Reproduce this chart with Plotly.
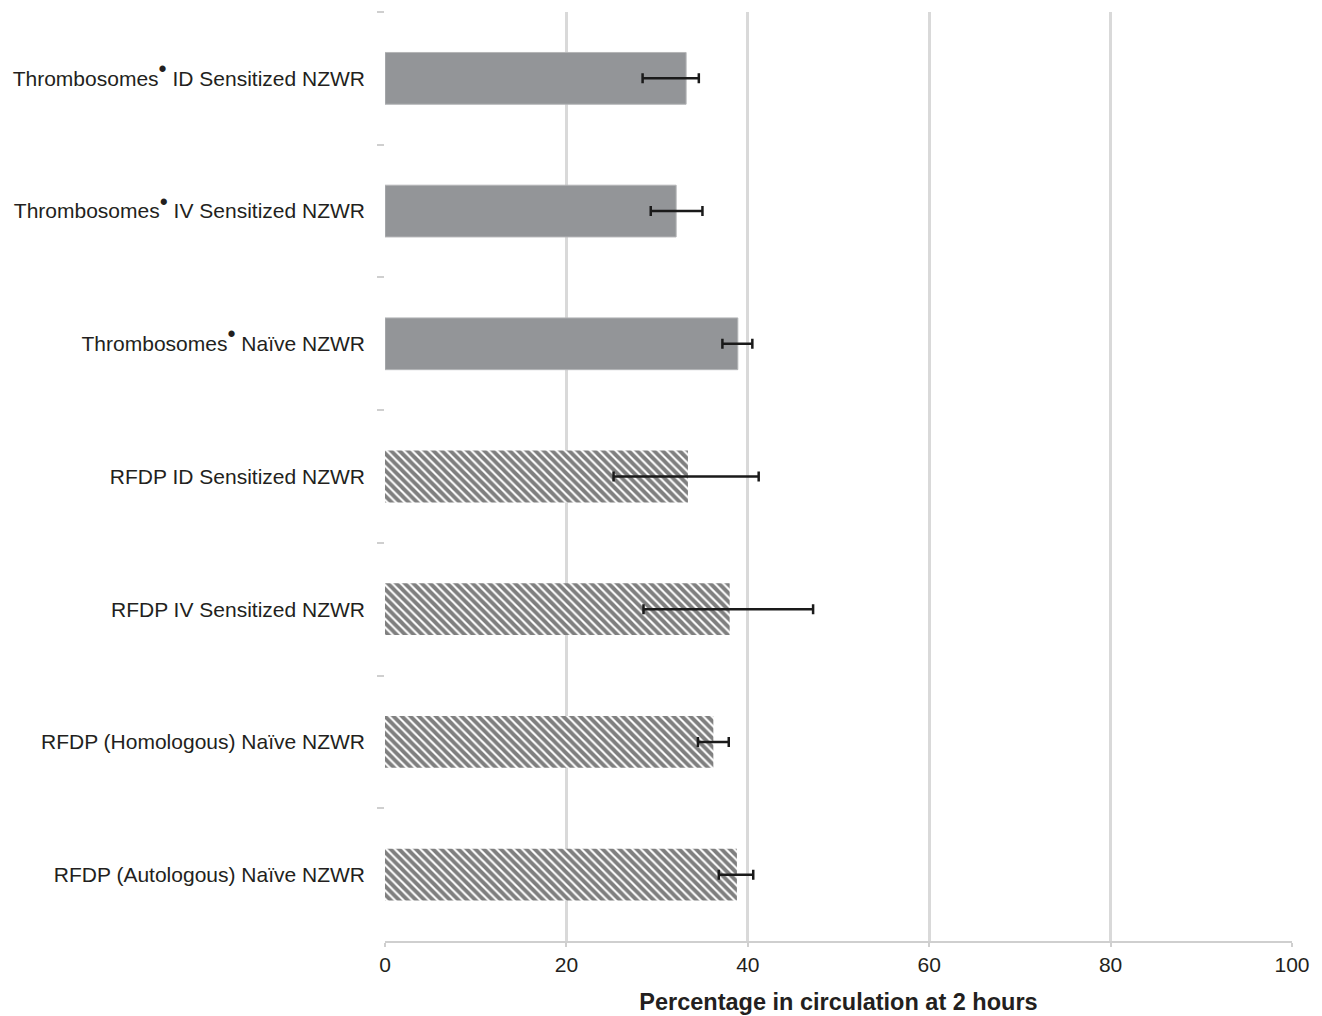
import plotly.graph_objects as go

BUL = '<sup><span style="font-size:23px">•</span></sup>'
categories = [
    "Thrombosomes" + BUL + " ID Sensitized NZWR",
    "Thrombosomes" + BUL + " IV Sensitized NZWR",
    "Thrombosomes" + BUL + " Naïve NZWR",
    "RFDP ID Sensitized NZWR",
    "RFDP IV Sensitized NZWR",
    "RFDP (Homologous) Naïve NZWR",
    "RFDP (Autologous) Naïve NZWR",
]
values = [33.2, 32.1, 38.9, 33.4, 38.0, 36.2, 38.8]
err_low = [28.4, 29.3, 37.2, 25.2, 28.5, 34.5, 36.8]
err_high = [34.6, 35.0, 40.5, 41.2, 47.2, 37.9, 40.6]
hatched = [False, False, False, True, True, True, True]
x_ticks = [0, 20, 40, 60, 80, 100]

FONT = "Liberation Sans, Arial, Helvetica, sans-serif"

fig = go.Figure()


def add_group(mask, solid):
    cats = [c for c, m in zip(categories, mask) if m]
    vals = [v for v, m in zip(values, mask) if m]
    lo = [v - l for v, l, m in zip(values, err_low, mask) if m]
    hi = [h - v for v, h, m in zip(values, err_high, mask) if m]
    marker = dict(color="#939598", line=dict(color="#b4b5b7", width=1)) if solid else dict(
        color="white",
        line=dict(color="rgba(0,0,0,0)", width=0),
        pattern=dict(shape="\\", fgcolor="#000000", bgcolor="white", size=6, solidity=0.65),
    )
    fig.add_trace(go.Bar(
        y=cats, x=vals, orientation="h", width=0.39,
        marker=marker,
        error_x=dict(type="data", symmetric=False, array=hi, arrayminus=lo,
                     color="#1a1a1a", thickness=2.5, width=5),
        showlegend=False,
    ))


add_group([not h for h in hatched], True)
add_group(hatched, False)

fig.update_layout(
    width=1322, height=1016,
    paper_bgcolor="white", plot_bgcolor="white",
    margin=dict(l=377, r=38, t=4, b=83),
    font=dict(family=FONT, size=21, color="#231f20"),
    barmode="overlay",
)
fig.update_xaxes(
    range=[0, 100], tickvals=x_ticks, ticktext=[str(t) for t in x_ticks],
    showgrid=True, gridcolor="#d9d9d9", gridwidth=3,
    showline=True, linecolor="#cfcfcf", linewidth=2,
    ticks="outside", ticklen=4, tickcolor="#cfcfcf", tickwidth=2,
    zeroline=False,
    tickfont=dict(size=21),
    title=dict(text="<b>Percentage in circulation at 2 hours</b>", font=dict(size=23.5), standoff=18),
)
fig.update_yaxes(
    categoryorder="array", categoryarray=categories, autorange="reversed",
    showgrid=False, showline=False, zeroline=False,
    ticks="outside", tickson="boundaries", ticklen=7, tickcolor="#cfcfcf", tickwidth=2,
    ticklabelstandoff=19,
    tickfont=dict(size=21),
)

fig.write_html("out.html")
